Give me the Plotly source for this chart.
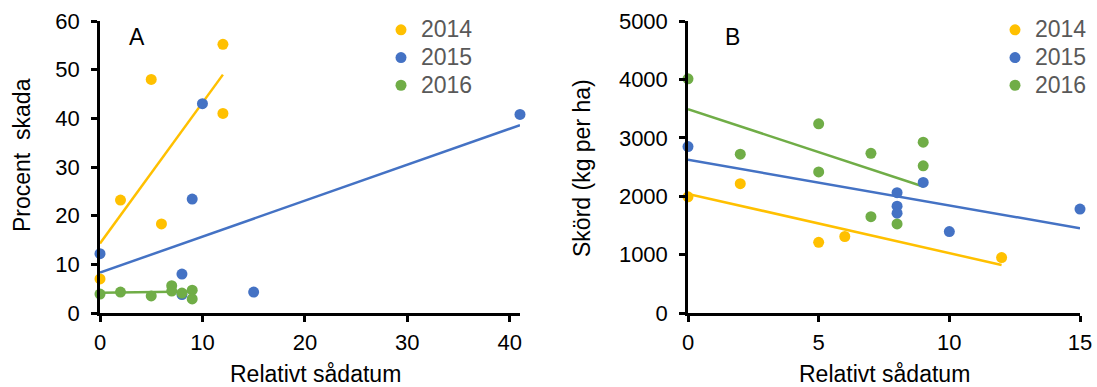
import plotly.graph_objects as go

W, H = 1097, 387
years = ["2014", "2015", "2016"]
colors = ["#FFC000", "#4472C4", "#70AD47"]

# Panel A: Procent skada vs relativt sådatum
a_x = {
    "2014": [0, 2, 5, 6, 12, 12],
    "2015": [0, 8, 8, 9, 10, 15, 41],
    "2016": [0, 2, 5, 7, 7, 8, 9, 9],
}
a_y = {
    "2014": [7.0, 23.2, 48.0, 18.3, 55.2, 41.0],
    "2015": [12.2, 8.0, 3.8, 23.4, 43.0, 4.3, 40.8],
    "2016": [3.9, 4.3, 3.5, 5.6, 4.5, 4.1, 4.7, 2.9],
}
a_intercept = {"2014": 14.3, "2015": 8.3, "2016": 4.15}
a_slope = {"2014": 2.89, "2015": 0.739, "2016": 0.03}

# Panel B: Skörd vs relativt sådatum
b_x = {
    "2014": [0, 2, 5, 6, 12],
    "2015": [0, 8, 8, 8, 9, 10, 15],
    "2016": [0, 2, 5, 5, 7, 7, 8, 9, 9],
}
b_y = {
    "2014": [1990, 2215, 1210, 1310, 950],
    "2015": [2850, 2060, 1830, 1710, 2235, 1395, 1780],
    "2016": [4010, 2720, 3240, 2415, 2735, 1650, 1525, 2925, 2520],
}
b_intercept = {"2014": 2040, "2015": 2625, "2016": 3490}
b_slope = {"2014": -101.5, "2015": -78.3, "2016": -147.2}

a_yticks = [0, 10, 20, 30, 40, 50, 60]
a_xticks = [0, 10, 20, 30, 40]
b_yticks = [0, 1000, 2000, 3000, 4000, 5000]
b_xticks = [0, 5, 10, 15]

FONT = "Liberation Sans, Arial"


def px_x(p):
    return p / W


def px_y(p):
    return 1 - p / H


fig = go.Figure()

for xs, ys, ic, sl, xa, ya, lg in [
    (a_x, a_y, a_intercept, a_slope, "x", "y", "legend"),
    (b_x, b_y, b_intercept, b_slope, "x2", "y2", "legend2"),
]:
    for yr, col in zip(years, colors):
        xmin, xmax = min(xs[yr]), max(xs[yr])
        fig.add_trace(go.Scatter(
            x=[xmin, xmax], y=[ic[yr] + sl[yr] * xmin, ic[yr] + sl[yr] * xmax],
            mode="lines", line=dict(color=col, width=2.5),
            xaxis=xa, yaxis=ya, showlegend=False, hoverinfo="skip",
            cliponaxis=False,
        ))
    for yr, col in zip(years, colors):
        fig.add_trace(go.Scatter(
            x=xs[yr], y=ys[yr], mode="markers",
            name=f'<span style="font-size:23px">{yr}</span>',
            marker=dict(color=col, size=11, line=dict(width=0)),
            xaxis=xa, yaxis=ya, legend=lg, cliponaxis=False,
        ))

axis_common = dict(
    showline=True, linecolor="black", linewidth=2.5, ticks="outside",
    ticklen=6, tickwidth=2.5, tickcolor="black", showgrid=False, zeroline=False,
    tickfont=dict(family=FONT, size=22, color="black"), automargin=False,
)

legend_common = dict(
    xanchor="left", yanchor="top",
    font=dict(family=FONT, size=19, color="#595959"),
    bgcolor="rgba(0,0,0,0)", tracegroupgap=0, itemwidth=30,
)

fig.update_layout(
    width=W, height=H,
    margin=dict(l=0, r=0, t=0, b=0, autoexpand=False),
    paper_bgcolor="white", plot_bgcolor="white",
    xaxis=dict(domain=[px_x(100), px_x(520)], range=[0, 41], tickvals=a_xticks,
               anchor="y", ticklabelstandoff=2, **axis_common),
    yaxis=dict(domain=[px_y(313), px_y(21)], range=[0, 60], tickvals=a_yticks,
               anchor="x", ticklabelstandoff=7, **axis_common),
    xaxis2=dict(domain=[px_x(688), px_x(1080)], range=[0, 15], tickvals=b_xticks,
                anchor="y2", ticklabelstandoff=2, **axis_common),
    yaxis2=dict(domain=[px_y(313), px_y(21)], range=[0, 5000], tickvals=b_yticks,
                anchor="x2", ticklabelstandoff=7, **axis_common),
    legend=dict(x=px_x(381), y=px_y(11), **legend_common),
    legend2=dict(x=px_x(995), y=px_y(11), **legend_common),
    showlegend=True,
)

font_t = dict(family=FONT, size=23, color="black")
ann = [
    dict(text="A", x=px_x(137), y=px_y(37)),
    dict(text="B", x=px_x(732), y=px_y(37)),
    dict(text="Relativt sådatum", x=px_x(315), y=px_y(374)),
    dict(text="Relativt sådatum", x=px_x(884), y=px_y(374)),
    dict(text="Procent\u00a0 skada", x=px_x(22), y=px_y(155), textangle=-90),
    dict(text="Skörd (kg per ha)", x=px_x(582), y=px_y(168), textangle=-90),
]
for a in ann:
    fig.add_annotation(xref="paper", yref="paper", showarrow=False,
                       xanchor="center", yanchor="middle", font=font_t, **a)

fig.write_html("out.html", config={"displayModeBar": False},
               post_script="document.body.style.margin='0';document.body.style.padding='0';")
